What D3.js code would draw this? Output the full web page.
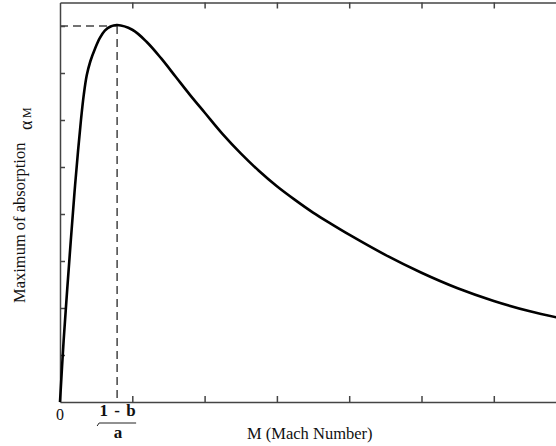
<!DOCTYPE html>
<html>
<head>
<meta charset="utf-8">
<script src="https://cdn.jsdelivr.net/npm/d3@7"></script>
<style>
  body { margin: 0; background: #fff; }
  text { font-family: "Liberation Serif", "DejaVu Serif", serif; fill: #111; }
</style>
</head>
<body>
<svg id="chart" width="556" height="446"></svg>
<script>
// values (M in tick units, alpha in tick units)
const machValues = [0, 0.05, 0.10, 0.15, 0.20, 0.25, 0.29, 0.33, 0.37, 0.42, 0.48, 0.55, 0.62, 0.70, 0.79,
    1.0, 1.2, 1.4, 1.6, 1.8, 2.0, 2.25, 2.5, 2.75, 3.0, 3.25, 3.5, 3.75, 4.0, 4.5, 5.0, 5.5, 6.0, 6.5, 6.9]
const alphaValues = [0, 1.3, 2.4, 3.45, 4.45, 5.35, 6.0, 6.55, 6.95, 7.25, 7.50, 7.74, 7.90, 7.99, 8.02,
    7.92, 7.66, 7.31, 6.92, 6.53, 6.16, 5.70, 5.29, 4.92, 4.59, 4.30, 4.03, 3.79, 3.56, 3.13, 2.75, 2.42, 2.15, 1.93, 1.79]
const xTicks = [1, 2, 3, 4, 5, 6]
const yTicks = [1, 2, 3, 4, 5, 6, 7, 8]
const peakM = 0.79,
    peakAlpha = 8.0

const width = 556,
    height = 446
const margin = { top: 2.5, bottom: 44, left: 60 }
const axisColor = '#444'

const svg = d3.select('#chart')

const x = d3.scaleLinear()
    .domain([0, 7])
    .range([margin.left, margin.left + 7 * 72.3])

const y = d3.scaleLinear()
    .domain([0, 8.5])
    .range([height - margin.bottom, margin.top])

const data = machValues.map((m, i) => ({ m: m, a: alphaValues[i] }))

// Axes: ticks point inward
const bottomAxis = svg.append('g')
    .attr('transform', `translate(0,${y(0)})`)
    .call(d3.axisTop(x).tickValues(xTicks).tickSize(6).tickFormat('').tickSizeOuter(0))
const topAxis = svg.append('g')
    .attr('transform', `translate(0,${y(8.5)})`)
    .call(d3.axisBottom(x).tickValues(xTicks).tickSize(6).tickFormat('').tickSizeOuter(0))
const leftAxis = svg.append('g')
    .attr('transform', `translate(${x(0)},0)`)
    .call(d3.axisRight(y).tickValues(yTicks).tickSize(5).tickFormat('').tickSizeOuter(0))

svg.selectAll('.domain, .tick line')
    .attr('stroke', axisColor)
    .attr('stroke-width', 1.5)

// Dashed guides to the peak
svg.append('line')
    .attr('x1', x(0)).attr('x2', x(peakM))
    .attr('y1', y(peakAlpha)).attr('y2', y(peakAlpha))
    .attr('stroke', axisColor).attr('stroke-width', 1.5)
    .attr('stroke-dasharray', '8,5')
svg.append('line')
    .attr('x1', x(peakM)).attr('x2', x(peakM))
    .attr('y1', y(peakAlpha)).attr('y2', y(0))
    .attr('stroke', axisColor).attr('stroke-width', 1.5)
    .attr('stroke-dasharray', '8,5')

// The curve
const line = d3.line()
    .x(d => x(d.m))
    .y(d => y(d.a))
    .curve(d3.curveCatmullRom.alpha(0.5))

svg.append('path')
    .datum(data)
    .attr('d', line)
    .attr('fill', 'none')
    .attr('stroke', '#000')
    .attr('stroke-width', 2.6)
    .attr('stroke-linejoin', 'round')

// Labels
svg.append('text')
    .attr('x', x(0))
    .attr('y', 420)
    .attr('text-anchor', 'middle')
    .style('font-size', '16px')
    .text('0')

svg.append('text')
    .attr('x', x(peakM) + 1)
    .attr('y', 416)
    .attr('text-anchor', 'middle')
    .style('font-size', '17px')
    .style('font-weight', 'bold')
    .style('letter-spacing', '1px')
    .text('1 - b')

svg.append('path')
    .attr('d', `M${x(peakM) - 20},426 L${x(peakM) - 18},423 L${x(peakM) + 19},423`)
    .attr('fill', 'none')
    .attr('stroke', '#222')
    .attr('stroke-width', 1)

svg.append('text')
    .attr('x', x(peakM) + 1)
    .attr('y', 438)
    .attr('text-anchor', 'middle')
    .style('font-size', '17px')
    .style('font-weight', 'bold')
    .text('a')

svg.append('text')
    .attr('x', 247)
    .attr('y', 439)
    .style('font-size', '16.5px')
    .text('M (Mach Number)')

// y label, rotated
svg.append('text')
    .attr('transform', 'translate(25,303) rotate(-90)')
    .style('font-size', '16.5px')
    .text('Maximum of absorption')
svg.append('text')
    .attr('transform', 'translate(32,130) rotate(-90)')
    .style('font-size', '18px')
    .text('α')
svg.append('text')
    .attr('transform', 'translate(31,118) rotate(-90)')
    .style('font-size', '12px')
    .text('M')
</script>
</body>
</html>
